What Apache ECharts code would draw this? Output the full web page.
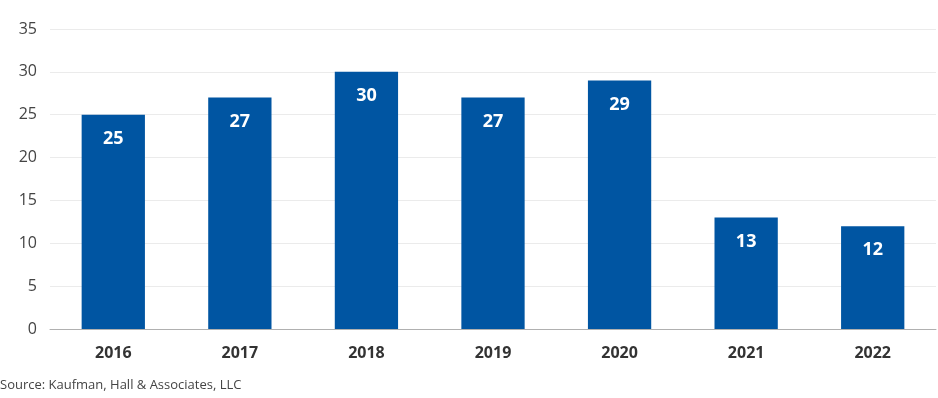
<!DOCTYPE html>
<html>
<head>
<meta charset="utf-8">
<script src="https://cdn.jsdelivr.net/npm/echarts@6/dist/echarts.min.js"></script>
<style>
  html, body { margin: 0; padding: 0; background: #fff; }
  #main { width: 938px; height: 398px; }
</style>
</head>
<body>
<div id="main"></div>
<script>
var years = ['2016', '2017', '2018', '2019', '2020', '2021', '2022'];
var deals = [25, 27, 30, 27, 29, 13, 12];
var yTicks = [0, 5, 10, 15, 20, 25, 30, 35];

var myChart = echarts.init(document.getElementById('main'));

var option = {
  animation: false,
  textStyle: { fontFamily: 'Open Sans' },
  grid: { left: 50, right: 2, top: 29, bottom: 69 },
  title: {
    text: 'Source: Kaufman, Hall & Associates, LLC',
    left: 0,
    top: 379,
    padding: 0,
    textStyle: { fontSize: 13, fontWeight: 'normal', color: '#444', fontFamily: 'Open Sans' }
  },
  xAxis: {
    type: 'category',
    data: years,
    axisTick: { show: false },
    axisLine: { lineStyle: { color: '#b0b0b0', width: 1 } },
    axisLabel: { fontSize: 16, fontWeight: 'bold', color: '#333', margin: 16 }
  },
  yAxis: {
    type: 'value',
    min: yTicks[0],
    max: yTicks[yTicks.length - 1],
    interval: 5,
    axisLine: { show: false },
    axisTick: { show: false },
    axisLabel: { fontSize: 16, color: '#444', margin: 13 },
    splitLine: { lineStyle: { color: '#ebebeb' } }
  },
  series: [{
    type: 'bar',
    data: deals,
    barWidth: '50%',
    itemStyle: { color: '#0055a2' },
    label: {
      show: true,
      position: 'insideTop',
      distance: 15,
      color: '#fff',
      fontSize: 18,
      fontWeight: 'bold'
    }
  }]
};

myChart.setOption(option);
</script>
</body>
</html>
